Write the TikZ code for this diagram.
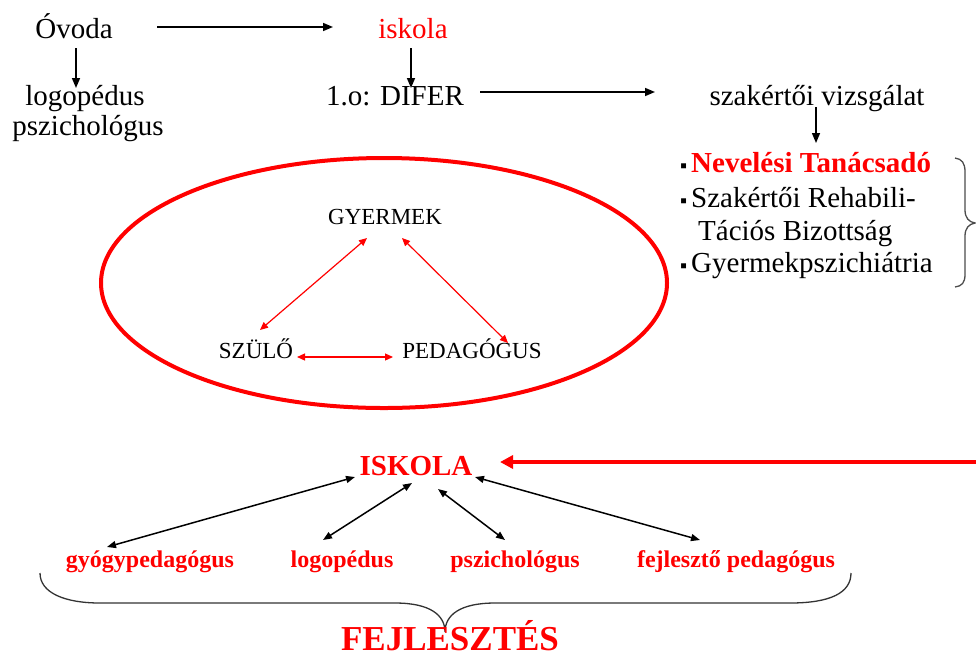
\documentclass[tikz,border=0pt]{standalone}
\usepackage{fontspec}
\setmainfont{Liberation Serif}
\newfontfamily\tnr{Liberation Serif}
\usetikzlibrary{arrows.meta,calc}
\definecolor{wred}{RGB}{255,0,0}
\tikzset{
  txt/.style={inner sep=0pt, anchor=base, font=\tnr\fontsize{29}{33}\selectfont},
  txtw/.style={inner sep=0pt, anchor=base west, font=\tnr\fontsize{29}{33}\selectfont},
  tri/.style={inner sep=0pt, anchor=base, font=\tnr\fontsize{23}{26}\selectfont},
  lab/.style={inner sep=0pt, anchor=base, text=wred, font=\tnr\fontsize{24}{27}\selectfont\bfseries},
  blk/.style={line width=1.5pt, -{Triangle[length=10pt,width=8pt]}},
  rarr/.style={wred, line width=1.2pt, {Triangle[length=8pt,width=7pt]}-{Triangle[length=8pt,width=7pt]}},
  barr/.style={black, line width=1.5pt, {Triangle[length=9pt,width=7pt]}-{Triangle[length=9pt,width=7pt]}}
}
\newcommand{\blt}{\makebox[11pt][l]{\fontsize{20}{20}\selectfont ▪}}
\begin{document}
\begin{tikzpicture}[x=1pt,y=-1pt]
\useasboundingbox (0,0) rectangle (976,657);
% top row
\node[txt] (ovoda) at (74,38) {Óvoda};
\node[txt, text=wred] (iskola1) at (413,38) {iskola};
\node[txt] (logo1) at (85,105) {logopédus};
\node[txt] (pszi1) at (88,135) {pszichológus};
\node[txt] (difer) at (395,105) {1.o: DIFER};
\node[txt] (szak) at (817,105) {szakértői vizsgálat};
\node[txtw] (l1) at (680,172) {\blt\textcolor{wred}{\bfseries Nevelési Tanácsadó}};
\node[txtw] (l2) at (680,207) {\blt Szakértői Rehabili-};
\node[txtw] (l3) at (698,240) {Tációs Bizottság};
\node[txtw] (l4) at (680,272) {\blt Gyermekpszichiátria};
\draw[blk] ($(ovoda.base)+(83,-11)$) -- ($(iskola1.base)+(-80,-11)$);
\draw[blk] ($(ovoda.base)+(2,10)$) -- ($(logo1.base)+(-9,-17)$);
\draw[blk] ($(iskola1.base)+(-2,10)$) -- ($(difer.base)+(16,-17)$);
\draw[blk] ($(difer.base)+(85,-13)$) -- ($(szak.base)+(-162,-13)$);
\draw[blk] ($(szak.base)+(-1,2)$) -- ($(l1.base west)+(136,-29)$);
% right brace
\draw[line width=1.3pt, black!70] (955,158) .. controls (962,159) and (965,163) .. (965,172)
  -- (965,210) .. controls (965,218) and (969,222) .. (975,223)
  .. controls (969,224) and (965,228) .. (965,236)
  -- (965,274) .. controls (965,283) and (962,286) .. (955,287);
% ellipse
\draw[wred, line width=4pt] (384,283) ellipse [x radius=283, y radius=125];
\node[tri] (gyermek) at (385,224) {GYERMEK};
\node[tri] (szulo) at (256,358) {SZÜLŐ};
\node[tri] (pedag) at (472,358) {PEDAGÓGUS};
\draw[rarr] ($(gyermek.base)+(-18,14)$) -- ($(szulo.base)+(4,-28)$);
\draw[rarr] ($(gyermek.base)+(17,14)$) -- ($(pedag.base)+(36,-15)$);
\draw[rarr] ($(szulo.base)+(41,-1)$) -- ($(pedag.base)+(-79,-1)$);
% bottom
\node[inner sep=0pt, anchor=base, text=wred, font=\tnr\fontsize{29}{33}\selectfont\bfseries] (iskola2) at (416,475) {ISKOLA};
\coordinate (redstart) at (976,462);
\draw[wred, line width=4pt, -{Triangle[length=13pt,width=13pt]}] (redstart) -- ($(iskola2.base)+(84,-13)$);
\node[lab] (gyogy) at (150,567) {gyógypedagógus};
\node[lab] (logo2) at (342,567) {logopédus};
\node[lab] (pszi2) at (515,567) {pszichológus};
\node[lab] (fejl) at (736,567) {fejlesztő pedagógus};
\draw[barr] ($(iskola2.base)+(-61,2)$) -- ($(gyogy.base)+(-43,-20)$);
\draw[barr] ($(iskola2.base)+(-4,8)$) -- ($(logo2.base)+(-19,-27)$);
\draw[barr] ($(iskola2.base)+(22,14)$) -- ($(pszi2.base)+(-10,-27)$);
\draw[barr] ($(iskola2.base)+(59,2)$) -- ($(fejl.base)+(-36,-27)$);
% bottom brace
\draw[line width=1.3pt, black!80] (40,573) .. controls (40,593) and (65,603) .. (100,603)
  -- (395,603) .. controls (430,603) and (445,615) .. (445,632)
  .. controls (445,615) and (460,603) .. (495,603)
  -- (790,603) .. controls (830,603) and (851,593) .. (851,573);
\node[inner sep=0pt, anchor=base, text=wred, font=\tnr\fontsize{35}{40}\selectfont\bfseries] (fejlesztes) at (450,650) {FEJLESZTÉS};
\end{tikzpicture}
\end{document}
